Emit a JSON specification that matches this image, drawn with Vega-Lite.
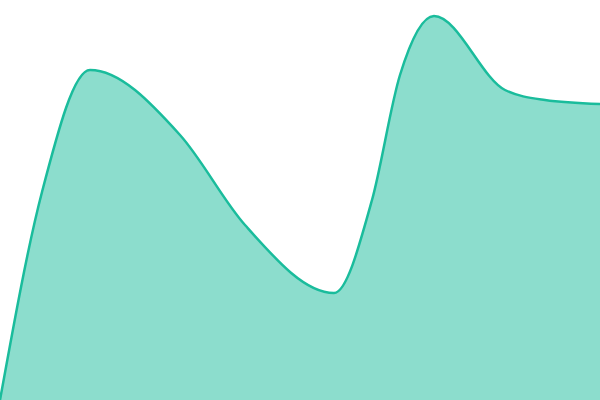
{
  "$schema": "https://vega.github.io/schema/vega-lite/v6.json",
  "width": 600,
  "height": 400,
  "autosize": {"type": "none"},
  "padding": 0,
  "config": {"view": {"stroke": null}},
  "data": {
    "values": [
      {"x": 0, "y": 0},
      {"x": 42, "y": 208},
      {"x": 90, "y": 330},
      {"x": 180, "y": 265},
      {"x": 245, "y": 175},
      {"x": 334, "y": 107},
      {"x": 372, "y": 200},
      {"x": 400, "y": 325},
      {"x": 434, "y": 384},
      {"x": 505, "y": 310},
      {"x": 545, "y": 300},
      {"x": 600, "y": 296}
    ]
  },
  "mark": {
    "type": "area",
    "interpolate": "monotone",
    "color": "#1abc9c",
    "fillOpacity": 0.5,
    "line": {"color": "#1abc9c", "strokeWidth": 2.5}
  },
  "encoding": {
    "x": {"field": "x", "type": "quantitative", "scale": {"domain": [0, 600], "nice": false}, "axis": null},
    "y": {"field": "y", "type": "quantitative", "scale": {"domain": [0, 400], "nice": false}, "axis": null}
  }
}
